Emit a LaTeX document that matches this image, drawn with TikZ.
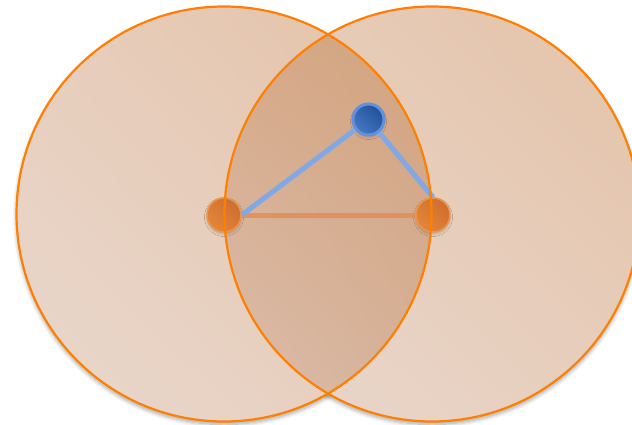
\documentclass[tikz,border=0pt]{standalone}
\usetikzlibrary{shadows.blur,shadings}
\definecolor{ring}{RGB}{255,128,0}
\definecolor{lA}{RGB}{228,194,168}
\definecolor{lB}{RGB}{233,216,206}
\definecolor{lM}{RGB}{231,206,188}
\definecolor{zA}{RGB}{210,162,124}
\definecolor{zUL}{RGB}{214,168,134}
\definecolor{zB}{RGB}{219,190,174}
\definecolor{zLR}{RGB}{214,178,154}
\definecolor{oBorder}{RGB}{238,148,72}
\definecolor{oDark}{RGB}{200,105,45}
\definecolor{oLight}{RGB}{232,138,60}
\definecolor{oMid}{RGB}{218,122,52}
\definecolor{bBorder}{RGB}{95,145,225}
\definecolor{bDark}{RGB}{28,72,142}
\definecolor{bLight}{RGB}{78,128,205}
\definecolor{bMid}{RGB}{50,100,175}
\definecolor{bLine}{RGB}{128,168,230}
\definecolor{oLine}{RGB}{225,140,82}
\tikzset{
  softshadow/.style={blur shadow={shadow xshift=0pt, shadow yshift=-3pt, shadow blur radius=4pt, shadow blur steps=8, shadow opacity=35}},
  nodeshadow/.style={blur shadow={shadow xshift=0pt, shadow yshift=-2pt, shadow blur radius=2.5pt, shadow blur steps=6, shadow opacity=20}},
  discfill/.style={upper right=lA, lower left=lB, upper left=lM, lower right=lM},
  ringline/.style={draw=ring, line width=2.2pt},
  onode/.style={circle, minimum size=34pt, inner sep=0pt, draw=oBorder, line width=1.5pt, upper right=oDark, lower left=oLight, upper left=oMid, lower right=oMid, nodeshadow},
  bnode/.style={circle, minimum size=31pt, inner sep=0pt, draw=bBorder, line width=3pt, upper right=bDark, lower left=bLight, upper left=bMid, lower right=bMid, nodeshadow},
  bedge/.style={draw=bLine, line width=5pt},
  oedge/.style={draw=oLine, line width=5pt, opacity=0.8}
}
\begin{document}
\begin{tikzpicture}[x=1pt,y=-1pt]
\useasboundingbox (0,0) rectangle (632,425);
\coordinate (CL) at (224,214);
\coordinate (CR) at (432,214);
% shadows
\path[fill=white, softshadow] (CL) circle[radius=207.5];
\path[fill=white, softshadow] (CR) circle[radius=207.5];
% fills
\shade[discfill] (CL) circle[radius=207.5];
\shade[discfill] (CR) circle[radius=207.5];
\begin{scope}
  \clip (CL) circle[radius=207.5];
  \clip (CR) circle[radius=207.5];
  \shade[upper right=zA, lower left=zB, upper left=zUL, lower right=zLR] (224,6) rectangle (432,422);
\end{scope}
% nodes
\node[onode] (L) at (224,215) {};
\node[onode] (R) at (433,215) {};
\node[bnode] (B) at (368.5,119.5) {};
% connectors
\draw[oedge] (L.east) -- (R.west);
\draw[bedge] (B) -- (L.east);
\draw[bedge] (B) -- (R.north);
% rings
\draw[ringline] (CL) circle[radius=207.5];
\draw[ringline] (CR) circle[radius=207.5];
\end{tikzpicture}
\end{document}
